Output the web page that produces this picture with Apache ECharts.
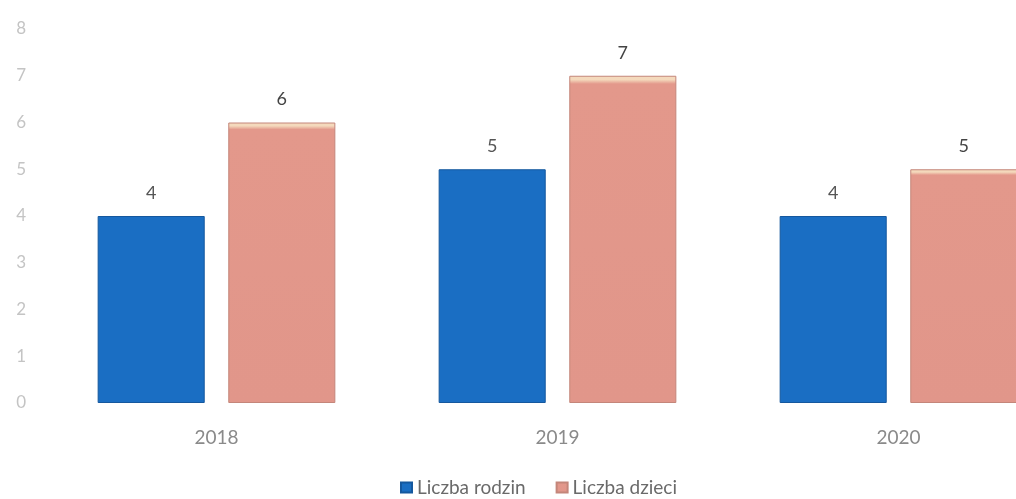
<!DOCTYPE html>
<html><head><meta charset="utf-8">
<script src="https://cdn.jsdelivr.net/npm/echarts@6/dist/echarts.min.js"></script>
<style>html,body{margin:0;padding:0;background:#fff}#c{width:1016px;height:499px}</style>
</head><body><div id="c"></div>
<script>
const categories = ['2018', '2019', '2020'];
const rodzin = [4, 5, 4];
const dzieci = [6, 7, 5];
const yTicks = [0, 1, 2, 3, 4, 5, 6, 7, 8];

const chart = echarts.init(document.getElementById('c'));
const font = 'Lato, "Open Sans", sans-serif';
chart.setOption({
  animation: false,
  backgroundColor: '#fff',
  textStyle: { fontFamily: font },
  grid: { left: 46, right: -53, top: 29, bottom: 96, outerBoundsMode: 'none', containLabel: false },
  legend: {
    left: 400, top: 478, padding: 0,
    itemWidth: 11, itemHeight: 10, itemGap: 30,
    textStyle: { color: '#6a6a6a', fontSize: 19, fontFamily: font },
    data: [
      { name: 'Liczba rodzin', icon: 'rect' },
      { name: 'Liczba dzieci', icon: 'rect' }
    ]
  },
  xAxis: {
    type: 'category', data: categories,
    axisLine: { show: false }, axisTick: { show: false },
    axisLabel: { color: '#8a8a8a', fontSize: 19, margin: 25, fontFamily: font }
  },
  yAxis: {
    type: 'value', min: yTicks[0], max: yTicks[yTicks.length - 1], interval: 1,
    splitLine: { show: false }, axisLine: { show: false }, axisTick: { show: false },
    axisLabel: { color: '#c4c4c4', fontSize: 17, margin: 20, fontFamily: font }
  },
  series: [
    {
      name: 'Liczba rodzin', type: 'bar', data: rodzin,
      barWidth: '31.4%', barGap: '22%',
      itemStyle: { color: '#1a6ec3', borderColor: '#15589e', borderWidth: 1 },
      label: { show: true, position: 'top', distance: 14, color: '#555', fontSize: 18, fontFamily: font }
    },
    {
      name: 'Liczba dzieci', type: 'bar', data: dzieci,
      barWidth: '31.4%',
      itemStyle: {
        color: {
          type: 'linear', x: 0, y: 0, x2: 0, y2: 1,
          colorStops: [
            { offset: 0, color: '#f4d9bc' },
            { offset: 0.012, color: '#f4d9bc' },
            { offset: 0.025, color: '#e3988b' },
            { offset: 1, color: '#e1968a' }
          ]
        },
        borderColor: '#c4867a', borderWidth: 1
      },
      label: { show: true, position: 'top', distance: 14, color: '#444', fontSize: 18, fontFamily: font }
    }
  ]
});
</script></body></html>
